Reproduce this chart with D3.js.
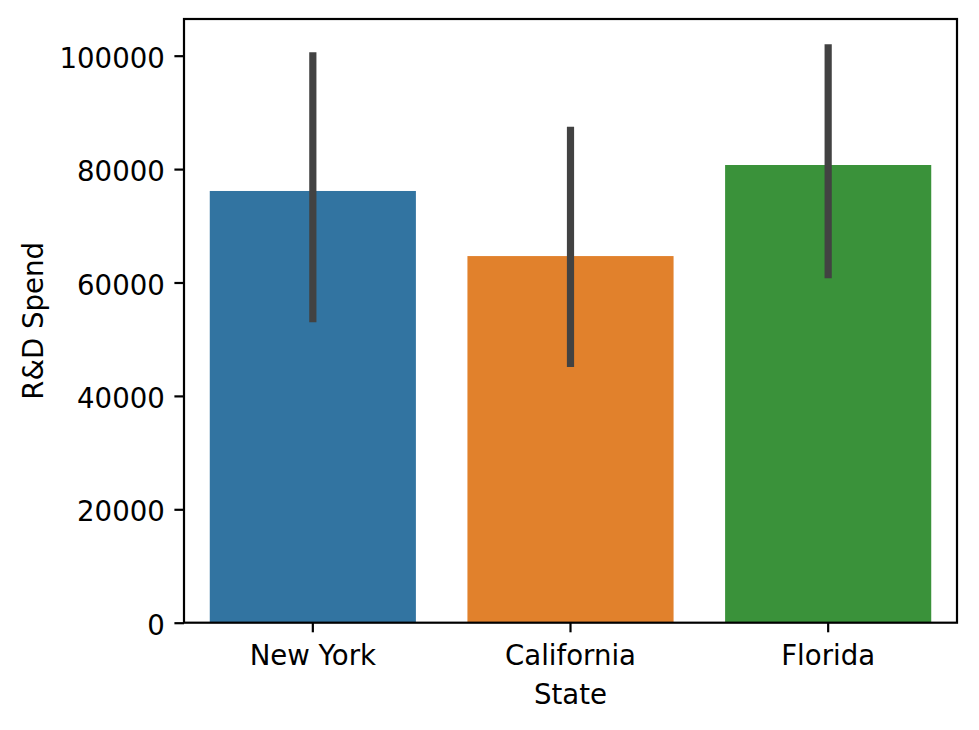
<!DOCTYPE html>
<html>
<head>
<meta charset="utf-8">
<script src="https://cdn.jsdelivr.net/npm/d3@7"></script>
<style>
  html, body { margin: 0; padding: 0; background: #fff; }
  svg { display: block; font-family: "DejaVu Sans", sans-serif; }
</style>
</head>
<body>
<svg id="chart" width="979" height="730"></svg>
<script>
const categories = ["New York", "California", "Florida"];
const meanValues = [76140, 64660, 80720];
const ciLow = [53000, 45100, 60750];
const ciHigh = [100600, 87480, 102000];
const barColors = ["#3274a1", "#e1812c", "#3a923a"];
const yTicks = [0, 20000, 40000, 60000, 80000, 100000];
const xTitle = "State";
const yTitle = "R&D Spend";

const W = 979, H = 730;
const margin = { left: 184, top: 19, right: 22, bottom: 107.3 };
const iw = W - margin.left - margin.right;
const ih = H - margin.top - margin.bottom;
const fs = 27.6;
const tickLen = 9.6, tickPad = 9.6, lw = 2.2;

const svg = d3.select("#chart");
const g = svg.append("g").attr("transform", `translate(${margin.left},${margin.top})`);

const x = d3.scaleBand().domain(categories).range([0, iw]).paddingInner(0.2).paddingOuter(0.1);
const y = d3.scaleLinear().domain([0, 106470]).range([ih, 0]);

// bars
g.selectAll("rect.bar").data(categories).enter().append("rect")
  .attr("class", "bar")
  .attr("x", d => x(d))
  .attr("width", x.bandwidth())
  .attr("y", (d, i) => y(meanValues[i]))
  .attr("height", (d, i) => y(0) - y(meanValues[i]))
  .attr("fill", (d, i) => barColors[i]);

// error bars
g.selectAll("line.err").data(categories).enter().append("line")
  .attr("class", "err")
  .attr("x1", d => x(d) + x.bandwidth() / 2)
  .attr("x2", d => x(d) + x.bandwidth() / 2)
  .attr("y1", (d, i) => y(ciLow[i]))
  .attr("y2", (d, i) => y(ciHigh[i]))
  .attr("stroke", "#424242")
  .attr("stroke-width", 7.2)
  .attr("stroke-linecap", "butt");

// y axis
const yAxis = d3.axisLeft(y).tickValues(yTicks).tickFormat(d3.format("d"))
  .tickSize(tickLen).tickPadding(tickPad);
const ya = g.append("g").call(yAxis);
ya.select(".domain").remove();
ya.selectAll(".tick line").attr("stroke", "#000").attr("stroke-width", lw);
ya.selectAll(".tick text").attr("font-size", fs).attr("fill", "#000")
  .attr("font-family", "DejaVu Sans").attr("dy", "0.42em");

// x axis
const xAxis = d3.axisBottom(x).tickSize(tickLen).tickPadding(tickPad);
const xa = g.append("g").attr("transform", `translate(0,${ih})`).call(xAxis);
xa.select(".domain").remove();
xa.selectAll(".tick line").attr("stroke", "#000").attr("stroke-width", lw);
xa.selectAll(".tick text").attr("font-size", fs).attr("fill", "#000")
  .attr("font-family", "DejaVu Sans").attr("dy", "0.82em");

// spines
g.append("rect").attr("x", 0).attr("y", 0).attr("width", iw).attr("height", ih)
  .attr("fill", "none").attr("stroke", "#000").attr("stroke-width", lw);

// axis titles
svg.append("text").attr("x", margin.left + iw / 2).attr("y", 703.5)
  .attr("text-anchor", "middle").attr("font-size", fs).attr("fill", "#000")
  .text(xTitle);
svg.append("text")
  .attr("transform", `translate(42.7,${margin.top + ih / 2}) rotate(-90)`)
  .attr("text-anchor", "middle").attr("font-size", fs).attr("fill", "#000")
  .text(yTitle);
</script>
</body>
</html>
